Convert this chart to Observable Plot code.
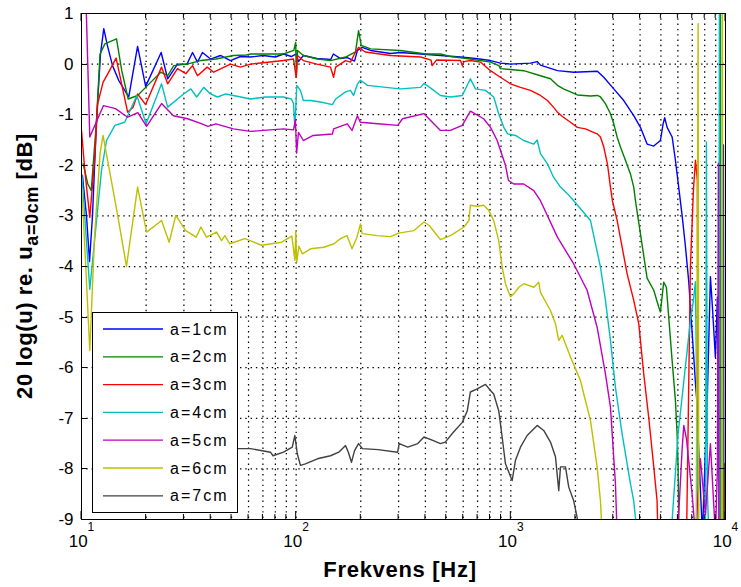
<!DOCTYPE html>
<html>
<head>
<meta charset="utf-8">
<script src="https://cdn.jsdelivr.net/npm/d3@7"></script>
<script src="https://cdn.jsdelivr.net/npm/@observablehq/plot@0.6"></script>
<style>
  html, body { margin: 0; padding: 0; background: #fff; }
  #chart { width: 741px; height: 587px; }
  svg text { font-family: "Liberation Sans", Arial, Helvetica, sans-serif; }
</style>
</head>
<body>
<div id="chart"></div>
<script>
// Response relative to a = 0 cm, one [frequency Hz, level dB] list per distance a
const labels = ["a=1cm", "a=2cm", "a=3cm", "a=4cm", "a=5cm", "a=6cm", "a=7cm"];
const colors = ["#0000ff", "#008000", "#ff0000", "#00bfbf", "#bf00bf", "#bfbf00", "#404040"];

const a1cm = [[10.1,-2.2],[10.55,-3.0],[10.9,-3.9],[11.25,-3.0],[11.75,-1.11],[12.26,0.2],[12.7,0.7],[13.2,0.37],[13.95,-0.03],[14.9,-0.32],[16.6,-0.65],[18.25,0.35],[19.9,-0.44],[23.5,0.23],[25.2,-0.29],[28.0,0.0],[31.0,0.0],[32.9,0.23],[34.7,0.04],[36.6,0.23],[39.9,0.1],[44.4,0.17],[49.4,0.07],[55.0,0.15],[61.3,0.14],[70,0.17],[80,0.14],[87.3,0.2],[95,0.15],[100,0.2],[102.5,0.05],[108,0.17],[125,0.11],[145,0.09],[149,0.2],[161,0.11],[173,0.13],[187,0.06],[193,0.27],[203,0.33],[222,0.27],[275,0.21],[306,0.23],[380,0.2],[470,0.17],[583,0.14],[684,0.11],[804,0.07],[894,0.02],[996,0.0],[1234,0.02],[1327,0.05],[1374,-0.02],[1648,-0.13],[1963,-0.16],[2531,-0.14],[2710,-0.26],[3016,-0.49],[3358,-0.72],[3737,-1.02],[4015,-1.25],[4313,-1.58],[4632,-1.62],[4976,-1.51],[5121,-1.18],[5210,-1.06],[5346,-1.25],[5642,-1.44],[5844,-1.9],[6053,-2.43],[6282,-3.0],[6505,-3.6],[6742,-4.3],[6991,-5.3],[7244,-6.3],[7396,-6.8],[7480,-7.5],[7806,-9.3],[8238,-6.5],[8506,-4.2],[8690,-4.8],[8974,-5.8],[9170,-4.6],[9370,-8.5],[9675,-9.5],[9780,-1.6],[9830,-10]];

const a2cm = [[10.18,-1.97],[10.7,-2.37],[11.1,-2.5],[11.75,-1.11],[12.2,0.2],[12.85,0.4],[14.56,0.5],[15.4,-0.13],[16.5,-0.69],[18.25,-0.62],[19.9,-0.46],[23.4,-0.16],[25.2,-0.23],[26.9,-0.03],[31.0,0.0],[35.9,0.07],[42.3,0.1],[51.0,0.17],[58.8,0.18],[61.3,0.2],[87.3,0.2],[97.5,0.27],[99.5,0.43],[100.2,-0.26],[101.5,0.27],[108,0.17],[125.6,0.1],[144.5,0.07],[170,0.14],[189,0.24],[195.3,0.66],[201,0.37],[222,0.3],[306,0.27],[402,0.2],[470,0.2],[523,0.15],[648,0.1],[804,0.04],[880,-0.03],[894,-0.09],[1148,-0.13],[1374,-0.23],[1530,-0.29],[1648,-0.42],[1758,-0.49],[1896,-0.55],[2041,-0.61],[2349,-0.63],[2531,-0.62],[2615,-0.65],[2759,-0.78],[2911,-0.98],[3016,-1.18],[3127,-1.44],[3240,-1.64],[3419,-1.9],[3607,-2.17],[3737,-2.43],[3806,-2.7],[4015,-3.35],[4313,-4.23],[4632,-4.47],[4886,-4.8],[4976,-4.9],[5154,-4.31],[5305,-4.41],[5438,-5.0],[5642,-5.86],[5844,-6.65],[5951,-7.31],[6016,-7.97],[6066,-9.3],[9400,-9.5],[9470,2],[9520,-10]];

const a3cm = [[10.0,-1.31],[10.36,-2.1],[10.93,-3.03],[11.5,-1.9],[11.9,-0.78],[12.6,-0.36],[13.5,-0.13],[14.5,0.12],[16.4,-0.95],[17.4,-0.85],[18.25,-0.59],[19.9,-0.8],[23.6,-0.06],[25.2,-0.39],[28.0,-0.09],[30.6,-0.19],[32.9,-0.03],[34.7,-0.23],[38.5,-0.06],[41.3,-0.16],[49.4,0.0],[55.0,-0.06],[61.3,0.0],[87.3,0.07],[97.2,0.1],[100,-0.26],[101.4,0.17],[108,0.07],[125,0.0],[144.5,-0.06],[149.4,-0.26],[152.7,-0.06],[169.8,0.07],[179,0.04],[187,0.2],[195.3,0.33],[210,0.24],[275,0.17],[380,0.14],[425,0.08],[430,-0.03],[450,0.08],[583,0.07],[594,-0.03],[605,0.05],[648,0.07],[722,0.04],[804,-0.13],[894,-0.26],[996,-0.39],[1109,-0.46],[1234,-0.52],[1374,-0.62],[1481,-0.72],[1579,-0.85],[1648,-0.95],[1758,-1.05],[1896,-1.15],[2041,-1.25],[2226,-1.28],[2426,-1.35],[2531,-1.38],[2615,-1.44],[2710,-1.64],[2818,-1.97],[2911,-2.43],[2973,-2.7],[3127,-3.09],[3480,-4.14],[3737,-4.67],[3944,-5.13],[4159,-6.12],[4388,-6.98],[4632,-7.96],[4800,-8.63],[4842,-9.3],[6577,-9.5],[6864,-4.0],[7088,-2.5],[7244,-1.9],[7396,-2.3],[7480,-9.5],[9780,-9.5],[9890,-7.9],[10000,-9.5]];

const a4cm = [[10.05,-2.2],[10.93,-4.45],[11.75,-3.09],[12.39,-2.1],[13.08,-1.51],[14.3,-1.21],[15.9,-1.15],[18.1,-0.62],[20.0,-1.18],[23.6,-0.39],[25.2,-0.85],[29.9,-0.59],[32.3,-0.49],[34.4,-0.65],[37.1,-0.46],[39.9,-0.59],[43.0,-0.65],[47.0,-0.59],[51.0,-0.62],[61.3,-0.69],[72,-0.65],[87.3,-0.65],[95,-0.69],[97.2,-0.78],[98.6,-1.25],[100.7,-0.42],[104.7,-0.52],[108,-0.72],[116.6,-0.72],[129.8,-0.75],[147.6,-0.8],[152.7,-0.69],[169.8,-0.55],[179,-0.52],[185,-0.62],[193.2,-0.39],[199.3,-0.32],[215,-0.42],[275,-0.47],[306,-0.49],[380,-0.46],[394,-0.38],[422,-0.47],[470,-0.62],[523,-0.65],[594,-0.62],[648,-0.29],[684,-0.49],[762,-0.52],[832,-0.65],[878,-0.98],[927,-1.25],[966,-1.38],[1051,-1.41],[1148,-1.51],[1279,-1.58],[1327,-1.5],[1374,-1.77],[1481,-1.97],[1579,-2.23],[1703,-2.43],[1835,-2.56],[1963,-2.7],[2349,-3.09],[2615,-4.01],[2759,-4.67],[2911,-5.46],[3071,-6.39],[3299,-7.31],[3607,-8.29],[3737,-8.63],[3875,-9.3],[5539,-9.5],[6016,-7.3],[6864,-5.07],[7088,-4.67],[7244,-4.3],[7480,-9.5],[8062,-9.5],[8150,-1.54],[8238,-8.5],[8400,-9.5],[9300,-9.5],[9370,2],[9420,-10]];

const a5cm = [[10.3,2.5],[10.93,-1.44],[12.66,-0.82],[14.4,-0.88],[16.4,-1.05],[18.3,-0.96],[20.1,-1.23],[23.6,-0.78],[26.8,-1.02],[31.2,-1.08],[35.9,-1.17],[38.8,-1.23],[42.3,-1.18],[51,-1.28],[61.3,-1.33],[87.3,-1.28],[97.2,-1.3],[99.2,-1.1],[100.5,-1.76],[102.5,-1.35],[108,-1.51],[120,-1.41],[147.6,-1.38],[149.4,-1.28],[173,-1.18],[182,-1.31],[193,-1.02],[199,-1.15],[240,-1.18],[297,-1.21],[313,-1.08],[394,-0.98],[470,-1.31],[523,-1.31],[594,-1.21],[648,-0.93],[747,-1.08],[804,-1.25],[862,-1.5],[944,-2.0],[975,-2.3],[1032,-2.37],[1148,-2.37],[1279,-2.5],[1374,-2.7],[1648,-3.42],[1963,-3.95],[2266,-4.47],[2523,-5.2],[2759,-6.12],[2911,-6.78],[3071,-8.29],[3127,-9.3],[5950,-9.5],[6282,-7.6],[6392,-7.14],[6577,-7.4],[6991,-8.5],[7244,-9.3],[7641,-7.8],[8062,-8.9],[8506,-7.5],[8974,-9.3],[9170,-8.0],[9268,-1.96],[9320,-10]];

const a6cm = [[10.0,-2.43],[10.22,-3.09],[10.93,-5.66],[11.5,-3.42],[12.2,-1.77],[12.6,-1.41],[13.5,-2.1],[14.8,-3.03],[16.2,-4.0],[18.25,-2.43],[20.1,-3.32],[23.6,-3.09],[25.6,-3.52],[27.5,-2.99],[30.6,-3.29],[34.2,-3.42],[36.0,-3.22],[38.2,-3.42],[42.6,-3.32],[44.9,-3.49],[46.5,-3.39],[49.0,-3.55],[57.7,-3.45],[68.9,-3.58],[85.5,-3.52],[95.5,-3.4],[98.6,-3.88],[99.6,-3.29],[100.6,-3.91],[103,-3.6],[107,-3.75],[116.6,-3.65],[134.6,-3.62],[149.9,-3.55],[160.8,-3.45],[172.6,-3.39],[182,-3.65],[192,-3.42],[199.3,-3.16],[203,-3.35],[239,-3.39],[275,-3.41],[300,-3.34],[354,-3.29],[394,-3.12],[417,-3.19],[470,-3.47],[523,-3.39],[605,-3.22],[638,-3.09],[648,-2.79],[697,-2.81],[747,-2.79],[789,-2.89],[832,-3.09],[878,-3.49],[911,-4.01],[944,-4.34],[996,-4.6],[1032,-4.54],[1089,-4.41],[1148,-4.34],[1279,-4.41],[1349,-4.31],[1374,-4.51],[1530,-4.87],[1614,-5.13],[1672,-5.46],[1734,-5.36],[1896,-5.79],[2110,-6.25],[2186,-6.52],[2349,-7.04],[2523,-7.96],[2615,-8.63],[2663,-9.3],[7300,-9.5],[7454,0.8],[7510,-9.5],[9600,-9.5],[9675,2],[9720,-10]];

const a7cm = [[45,-7.58],[52,-7.6],[61.3,-7.6],[75.9,-7.67],[78,-7.74],[87.3,-7.67],[95.9,-7.57],[98.6,-7.34],[101.2,-7.7],[104.7,-7.93],[110.4,-7.9],[125.6,-7.8],[144.5,-7.74],[158,-7.67],[169.8,-7.54],[175,-7.67],[181,-7.87],[187,-7.64],[195.3,-7.5],[203.7,-7.6],[240.6,-7.62],[297,-7.67],[302,-7.5],[331,-7.57],[368.5,-7.5],[394,-7.37],[430,-7.43],[470,-7.5],[495,-7.47],[541,-7.27],[594,-7.08],[627,-6.85],[648,-6.48],[697,-6.42],[762,-6.33],[804,-6.45],[832,-6.52],[878,-6.85],[911,-7.37],[944,-7.9],[1014,-8.23],[1051,-7.83],[1109,-7.57],[1191,-7.34],[1327,-7.14],[1423,-7.24],[1530,-7.47],[1614,-7.76],[1672,-8.43],[1703,-7.96],[1797,-7.96],[1861,-8.36],[1963,-8.63],[2036,-8.96],[2080,-9.3],[9850,-9.5],[9900,-7.9],[9950,-9.5]];

// Axis ticks
const xMajor = [10, 100, 1000, 10000];
const xMinor = [20, 30, 40, 50, 60, 70, 80, 90, 200, 300, 400, 500, 600, 700, 800, 900,
                2000, 3000, 4000, 5000, 6000, 7000, 8000, 9000];
const yTicks = [-9, -8, -7, -6, -5, -4, -3, -2, -1, 0, 1];

const series = [a1cm, a2cm, a3cm, a4cm, a5cm, a6cm, a7cm];
const rows = series.flatMap((pts, i) => pts.map(([f, db]) => ({f, db, a: labels[i]})));

const dots = {stroke: "#000", strokeOpacity: 1, strokeWidth: 1.25, strokeDasharray: "1.4,3.9"};

const chart = Plot.plot({
  width: 741,
  height: 587,
  marginLeft: 81,
  marginRight: 16,
  marginTop: 13,
  marginBottom: 68,
  style: {background: "#fff", fontFamily: "Liberation Sans, Arial, Helvetica, sans-serif", color: "#000"},
  x: {type: "log", domain: [10, 10000], label: null},
  y: {domain: [-9, 1], label: null},
  color: {domain: labels, range: colors},
  marks: [
    Plot.gridY(yTicks.slice(1, -1), dots),
    Plot.gridX(xMajor.slice(1, -1).concat(xMinor), dots),
    Plot.line(rows, {x: "f", y: "db", z: "a", stroke: "a", strokeWidth: 1.4, clip: true}),
    Plot.frame({stroke: "#000", strokeWidth: 1}),
    Plot.axisY(yTicks, {tickSize: 0, tickPadding: 8, fontSize: 17, tickFormat: d => String(d), label: null}),
    Plot.axisX(xMajor, {tickSize: 0, tickPadding: 15, fontSize: 17,
                        tickFormat: d => String(Math.round(Math.log10(d))), label: null})
  ]
});

document.getElementById("chart").appendChild(chart);

const svg = d3.select(chart);
const sx = chart.scale("x"), sy = chart.scale("y");
const X = v => sx.apply(v), Y = v => sy.apply(v);
const xLeft = X(10), xRight = X(10000), yBottom = Y(-9), yTop = Y(1);

// Power-of-ten tick labels: "10" with the exponent raised
svg.selectAll('g[aria-label="x-axis tick label"] text').each(function () {
  const exp = this.textContent;
  const t = d3.select(this);
  t.text(null);
  t.append("tspan").text("10");
  t.append("tspan").attr("font-size", 12).attr("dy", -16).text(exp);
});

// Inward ticks on all four sides
const ticks = svg.append("g").attr("stroke", "#000").attr("stroke-width", 1);
for (const v of xMajor.concat(xMinor)) {
  const len = xMajor.includes(v) ? 8 : 5;
  const px = X(v);
  ticks.append("line").attr("x1", px).attr("x2", px).attr("y1", yBottom).attr("y2", yBottom - len);
  ticks.append("line").attr("x1", px).attr("x2", px).attr("y1", yTop).attr("y2", yTop + len);
}
for (const v of yTicks) {
  const py = Math.round(Y(v)) + 0.5;
  ticks.append("line").attr("x1", xLeft).attr("x2", xLeft + 6).attr("y1", py).attr("y2", py);
  ticks.append("line").attr("x1", xRight).attr("x2", xRight - 6).attr("y1", py).attr("y2", py);
}

// Axis titles
svg.append("text")
  .attr("x", (xLeft + xRight) / 2 - 3).attr("y", 577)
  .attr("text-anchor", "middle").attr("font-weight", "bold").attr("font-size", 22)
  .attr("letter-spacing", 0.7).attr("fill", "#000")
  .text("Frekvens [Hz]");

const yl = svg.append("text")
  .attr("transform", `translate(32,${(yTop + yBottom) / 2}) rotate(-90)`)
  .attr("text-anchor", "middle").attr("font-weight", "bold").attr("font-size", 22)
  .attr("letter-spacing", 0.6).attr("fill", "#000");
yl.append("tspan").text("20 log(u) re. u");
yl.append("tspan").attr("font-size", 18).attr("dy", 6).text("a=0cm");
yl.append("tspan").attr("dy", -6).text(" [dB]");

// Legend box inside the axes, lower left
const lg = svg.append("g").attr("transform", "translate(92,312)");
lg.append("rect").attr("x", 0.5).attr("y", 0.5).attr("width", 145).attr("height", 200)
  .attr("fill", "#fff").attr("stroke", "#000").attr("stroke-width", 1);
labels.forEach((lab, i) => {
  const cy = 17 + i * 27.8;
  lg.append("line").attr("x1", 11).attr("x2", 71).attr("y1", cy).attr("y2", cy)
    .attr("stroke", colors[i]).attr("stroke-width", 1.3);
  lg.append("text").attr("x", 78).attr("y", cy + 5.5).attr("font-size", 16)
    .attr("text-anchor", "start").attr("letter-spacing", 2).attr("fill", "#000").text(lab);
});
</script>
</body>
</html>
